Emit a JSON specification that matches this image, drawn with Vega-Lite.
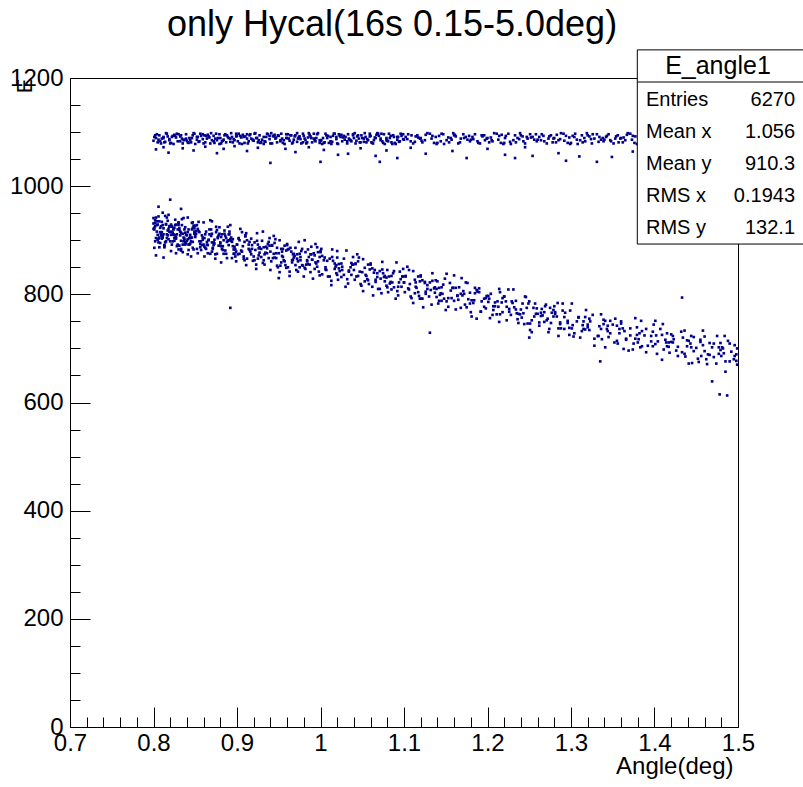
{
"$schema": "https://vega.github.io/schema/vega-lite/v6.json",
"width": 668, "height": 649,
"autosize": {"type": "none"},
"padding": {"left": 70, "top": 78, "right": 65, "bottom": 60},
"background": "white",
"title": {"text": "only Hycal(16s 0.15-5.0deg)", "fontSize": 36, "font": "Liberation Sans", "fontWeight": "normal", "color": "black", "anchor": "middle", "frame": "group", "baseline": "alphabetic", "offset": -23, "dx": -12},
"config": {
 "view": {"stroke": "black", "strokeWidth": 1},
 "font": "Liberation Sans",
 "axis": {"domainColor": "black", "tickColor": "black", "labelColor": "black", "titleColor": "black", "grid": false, "labelFont": "Liberation Sans", "titleFont": "Liberation Sans", "titleFontWeight": "normal", "domainWidth": 1, "tickWidth": 1}
},
"data": {"values": [
{"x":0.801,"y":920},{"x":0.807,"y":905},{"x":0.804,"y":935},{"x":0.809,"y":912},{"x":0.802,"y":926},{"x":0.806,"y":896},{"x":0.800,"y":931},{"x":0.808,"y":915},{"x":0.803,"y":942},{"x":0.805,"y":901},{"x":0.801,"y":923},{"x":0.807,"y":887},{"x":0.804,"y":928},{"x":0.809,"y":909},{"x":0.802,"y":937},{"x":0.806,"y":903},
{"x":0.810,"y":915},{"x":0.818,"y":947},{"x":0.813,"y":889},{"x":0.815,"y":930},{"x":0.811,"y":905},{"x":0.817,"y":918},{"x":0.814,"y":896},{"x":0.819,"y":926},{"x":0.812,"y":911},{"x":0.816,"y":942},{"x":0.810,"y":903},{"x":0.818,"y":921},{"x":0.813,"y":891},{"x":0.815,"y":929},{"x":0.811,"y":908},{"x":0.817,"y":936},
{"x":0.821,"y":910},{"x":0.827,"y":876},{"x":0.824,"y":921},{"x":0.829,"y":892},{"x":0.822,"y":916},{"x":0.826,"y":928},{"x":0.820,"y":898},{"x":0.828,"y":911},{"x":0.823,"y":914},{"x":0.825,"y":899},{"x":0.821,"y":929},{"x":0.827,"y":906},{"x":0.824,"y":920},{"x":0.829,"y":890},{"x":0.822,"y":925},{"x":0.826,"y":909},
{"x":0.830,"y":933},{"x":0.838,"y":892},{"x":0.833,"y":914},{"x":0.835,"y":878},{"x":0.831,"y":919},{"x":0.837,"y":900},{"x":0.834,"y":928},{"x":0.839,"y":894},{"x":0.832,"y":909},{"x":0.836,"y":941},{"x":0.830,"y":883},{"x":0.838,"y":924},{"x":0.833,"y":899},{"x":0.835,"y":912},{"x":0.831,"y":890},{"x":0.837,"y":920},
{"x":0.841,"y":902},{"x":0.847,"y":933},{"x":0.844,"y":894},{"x":0.849,"y":912},{"x":0.842,"y":882},{"x":0.846,"y":920},{"x":0.840,"y":899},{"x":0.848,"y":927},{"x":0.843,"y":904},{"x":0.845,"y":870},{"x":0.841,"y":915},{"x":0.847,"y":886},{"x":0.844,"y":910},{"x":0.849,"y":922},{"x":0.842,"y":892},{"x":0.846,"y":905},
{"x":0.850,"y":906},{"x":0.858,"y":891},{"x":0.853,"y":921},{"x":0.855,"y":898},{"x":0.851,"y":912},{"x":0.857,"y":882},{"x":0.854,"y":917},{"x":0.859,"y":901},{"x":0.852,"y":928},{"x":0.856,"y":887},{"x":0.850,"y":909},
{"x":0.861,"y":870},{"x":0.867,"y":911},{"x":0.864,"y":892},{"x":0.869,"y":920},{"x":0.862,"y":886},{"x":0.866,"y":901},{"x":0.860,"y":933},{"x":0.868,"y":875},{"x":0.863,"y":916},{"x":0.865,"y":891},{"x":0.861,"y":904},
{"x":0.870,"y":879},{"x":0.878,"y":909},{"x":0.873,"y":894},{"x":0.875,"y":925},{"x":0.871,"y":886},{"x":0.877,"y":904},{"x":0.874,"y":874},{"x":0.879,"y":912},{"x":0.872,"y":891},{"x":0.876,"y":919},{"x":0.870,"y":896},
{"x":0.881,"y":859},{"x":0.887,"y":904},{"x":0.884,"y":875},{"x":0.889,"y":899},{"x":0.882,"y":911},{"x":0.886,"y":881},{"x":0.880,"y":894},{"x":0.888,"y":897},{"x":0.883,"y":882},{"x":0.885,"y":912},{"x":0.881,"y":889},
{"x":0.890,"y":900},{"x":0.898,"y":870},{"x":0.893,"y":905},{"x":0.895,"y":889},{"x":0.891,"y":916},{"x":0.897,"y":875},{"x":0.894,"y":897},{"x":0.899,"y":861},{"x":0.892,"y":902},{"x":0.896,"y":883},{"x":0.890,"y":911},
{"x":0.901,"y":874},{"x":0.907,"y":889},{"x":0.904,"y":921},{"x":0.909,"y":863},{"x":0.902,"y":904},{"x":0.906,"y":879},{"x":0.900,"y":892},{"x":0.908,"y":870},{"x":0.903,"y":900},
{"x":0.915,"y":882},{"x":0.911,"y":913},{"x":0.917,"y":874},{"x":0.914,"y":892},{"x":0.919,"y":862},{"x":0.912,"y":900},{"x":0.916,"y":879},{"x":0.910,"y":907},{"x":0.918,"y":884},
{"x":0.923,"y":847},{"x":0.925,"y":892},{"x":0.921,"y":863},{"x":0.927,"y":887},{"x":0.924,"y":899},{"x":0.929,"y":869},{"x":0.922,"y":882},{"x":0.926,"y":885},{"x":0.920,"y":870},
{"x":0.938,"y":897},{"x":0.933,"y":874},{"x":0.935,"y":888},{"x":0.931,"y":858},{"x":0.937,"y":893},{"x":0.934,"y":877},{"x":0.939,"y":904},{"x":0.932,"y":863},{"x":0.936,"y":885},
{"x":0.940,"y":845},{"x":0.948,"y":886},{"x":0.943,"y":867},{"x":0.945,"y":895},{"x":0.941,"y":861},{"x":0.947,"y":876},{"x":0.944,"y":908},{"x":0.949,"y":850},{"x":0.942,"y":891},
{"x":0.956,"y":863},{"x":0.950,"y":876},{"x":0.958,"y":854},{"x":0.953,"y":884},{"x":0.955,"y":869},{"x":0.951,"y":900},{"x":0.957,"y":861},{"x":0.954,"y":879},{"x":0.959,"y":849},
{"x":0.962,"y":884},{"x":0.966,"y":863},{"x":0.960,"y":891},{"x":0.968,"y":868},{"x":0.963,"y":834},{"x":0.965,"y":879},{"x":0.961,"y":850},{"x":0.967,"y":874},{"x":0.964,"y":886},
{"x":0.979,"y":853},{"x":0.972,"y":866},{"x":0.976,"y":869},{"x":0.970,"y":854},{"x":0.978,"y":884},{"x":0.973,"y":861},{"x":0.975,"y":875},{"x":0.971,"y":845},{"x":0.977,"y":880},
{"x":0.984,"y":861},{"x":0.989,"y":888},{"x":0.982,"y":847},{"x":0.986,"y":869},{"x":0.980,"y":833},{"x":0.988,"y":874},{"x":0.983,"y":855},{"x":0.985,"y":883},{"x":0.981,"y":849},
{"x":0.997,"y":861},{"x":0.994,"y":893},{"x":0.999,"y":835},{"x":0.992,"y":876},{"x":0.996,"y":851},{"x":0.990,"y":864},{"x":0.998,"y":842},{"x":0.993,"y":872},{"x":0.995,"y":857},
{"x":1.001,"y":884},{"x":1.007,"y":845},{"x":1.004,"y":863},{"x":1.009,"y":833},{"x":1.002,"y":871},{"x":1.006,"y":850},{"x":1.000,"y":878},
{"x":1.018,"y":851},{"x":1.013,"y":817},{"x":1.015,"y":862},{"x":1.011,"y":833},{"x":1.017,"y":857},{"x":1.014,"y":869},{"x":1.019,"y":839},
{"x":1.022,"y":848},{"x":1.026,"y":851},{"x":1.020,"y":836},{"x":1.028,"y":866},{"x":1.023,"y":843},{"x":1.025,"y":857},{"x":1.021,"y":827},
{"x":1.037,"y":858},{"x":1.034,"y":842},{"x":1.039,"y":869},{"x":1.032,"y":828},{"x":1.036,"y":850},{"x":1.030,"y":814},{"x":1.038,"y":855},
{"x":1.043,"y":833},{"x":1.045,"y":861},{"x":1.041,"y":827},{"x":1.047,"y":842},{"x":1.044,"y":874},{"x":1.049,"y":816},{"x":1.042,"y":857},
{"x":1.056,"y":828},{"x":1.050,"y":841},{"x":1.058,"y":819},{"x":1.053,"y":849},{"x":1.055,"y":834},{"x":1.051,"y":865},{"x":1.057,"y":826},
{"x":1.064,"y":840},{"x":1.069,"y":810},{"x":1.062,"y":848},{"x":1.066,"y":827},{"x":1.060,"y":855},{"x":1.068,"y":832},{"x":1.063,"y":798},
{"x":1.075,"y":839},{"x":1.071,"y":810},{"x":1.077,"y":834},{"x":1.074,"y":846},{"x":1.079,"y":816},{"x":1.072,"y":829},{"x":1.076,"y":832},
{"x":1.080,"y":813},{"x":1.088,"y":843},{"x":1.083,"y":820},{"x":1.085,"y":834},{"x":1.081,"y":804},{"x":1.087,"y":839},{"x":1.084,"y":823},
{"x":1.099,"y":847},{"x":1.092,"y":806},{"x":1.096,"y":828},{"x":1.090,"y":792},{"x":1.098,"y":833},{"x":1.093,"y":814},{"x":1.095,"y":842},
{"x":1.101,"y":804},{"x":1.107,"y":819},{"x":1.104,"y":851},{"x":1.109,"y":793},{"x":1.102,"y":834},{"x":1.106,"y":809},{"x":1.100,"y":822},
{"x":1.118,"y":797},{"x":1.113,"y":827},{"x":1.115,"y":812},{"x":1.111,"y":843},{"x":1.117,"y":804},{"x":1.114,"y":822},{"x":1.119,"y":792},
{"x":1.122,"y":826},{"x":1.126,"y":805},{"x":1.120,"y":833},{"x":1.128,"y":810},{"x":1.123,"y":776},{"x":1.125,"y":821},{"x":1.121,"y":792},
{"x":1.137,"y":813},{"x":1.134,"y":825},{"x":1.139,"y":795},{"x":1.132,"y":808},{"x":1.136,"y":811},{"x":1.130,"y":796},{"x":1.138,"y":826},
{"x":1.143,"y":799},{"x":1.145,"y":813},{"x":1.141,"y":783},{"x":1.147,"y":818},{"x":1.144,"y":802},{"x":1.149,"y":829},{"x":1.142,"y":788},
{"x":1.156,"y":807},{"x":1.150,"y":771},{"x":1.158,"y":812},{"x":1.153,"y":793},{"x":1.155,"y":821},{"x":1.151,"y":787},
{"x":1.164,"y":798},{"x":1.169,"y":830},{"x":1.162,"y":772},{"x":1.166,"y":813},{"x":1.160,"y":788},{"x":1.168,"y":801},
{"x":1.175,"y":776},{"x":1.171,"y":806},{"x":1.177,"y":791},{"x":1.174,"y":822},{"x":1.179,"y":783},{"x":1.172,"y":801},
{"x":1.180,"y":767},{"x":1.188,"y":805},{"x":1.183,"y":784},{"x":1.185,"y":812},{"x":1.181,"y":789},{"x":1.187,"y":755},
{"x":1.199,"y":797},{"x":1.192,"y":768},{"x":1.196,"y":792},{"x":1.190,"y":804},{"x":1.198,"y":774},{"x":1.193,"y":787},
{"x":1.201,"y":786},{"x":1.207,"y":771},{"x":1.204,"y":801},{"x":1.209,"y":778},{"x":1.202,"y":792},{"x":1.206,"y":762},
{"x":1.218,"y":793},{"x":1.213,"y":777},{"x":1.215,"y":804},{"x":1.211,"y":763},{"x":1.217,"y":785},{"x":1.214,"y":749},
{"x":1.222,"y":787},{"x":1.226,"y":768},{"x":1.220,"y":796},{"x":1.228,"y":762},{"x":1.223,"y":777},{"x":1.225,"y":809},
{"x":1.237,"y":747},{"x":1.234,"y":788},{"x":1.239,"y":763},{"x":1.232,"y":776},{"x":1.236,"y":754},{"x":1.230,"y":784},
{"x":1.243,"y":765},{"x":1.245,"y":796},{"x":1.241,"y":757},{"x":1.247,"y":775},{"x":1.244,"y":745},{"x":1.249,"y":783},
{"x":1.256,"y":759},{"x":1.250,"y":787},{"x":1.258,"y":764},{"x":1.253,"y":730},{"x":1.255,"y":775},{"x":1.251,"y":746},
{"x":1.264,"y":766},{"x":1.269,"y":778},{"x":1.262,"y":748},{"x":1.266,"y":761},{"x":1.260,"y":764},{"x":1.268,"y":749},
{"x":1.275,"y":775},{"x":1.271,"y":752},{"x":1.277,"y":766},{"x":1.274,"y":736},{"x":1.279,"y":771},{"x":1.272,"y":755},
{"x":1.280,"y":778},{"x":1.288,"y":737},{"x":1.283,"y":759},{"x":1.285,"y":723},{"x":1.281,"y":764},{"x":1.287,"y":745},
{"x":1.299,"y":770},{"x":1.292,"y":736},{"x":1.296,"y":751},{"x":1.290,"y":783},{"x":1.298,"y":725},{"x":1.293,"y":766},
{"x":1.301,"y":737},{"x":1.307,"y":750},{"x":1.304,"y":728},{"x":1.309,"y":758},{"x":1.302,"y":743},
{"x":1.318,"y":771},{"x":1.313,"y":732},{"x":1.315,"y":750},{"x":1.311,"y":720},{"x":1.317,"y":758},
{"x":1.322,"y":734},{"x":1.326,"y":762},{"x":1.320,"y":739},{"x":1.328,"y":705},{"x":1.323,"y":750},
{"x":1.337,"y":717},{"x":1.334,"y":741},{"x":1.339,"y":753},{"x":1.332,"y":723},{"x":1.336,"y":736},
{"x":1.343,"y":736},{"x":1.345,"y":721},{"x":1.341,"y":751},{"x":1.347,"y":728},{"x":1.344,"y":742},
{"x":1.356,"y":709},{"x":1.350,"y":744},{"x":1.358,"y":728},{"x":1.353,"y":755},{"x":1.355,"y":714},
{"x":1.364,"y":732},{"x":1.369,"y":696},{"x":1.362,"y":737},{"x":1.366,"y":718},{"x":1.360,"y":746},
{"x":1.375,"y":709},{"x":1.371,"y":724},{"x":1.377,"y":756},{"x":1.374,"y":698},{"x":1.379,"y":739},
{"x":1.380,"y":711},{"x":1.388,"y":724},{"x":1.383,"y":702},{"x":1.385,"y":732},{"x":1.381,"y":717},
{"x":1.399,"y":744},{"x":1.392,"y":705},{"x":1.396,"y":723},{"x":1.390,"y":693},{"x":1.398,"y":731},
{"x":1.401,"y":708},{"x":1.407,"y":736},{"x":1.404,"y":713},{"x":1.409,"y":679},{"x":1.402,"y":724},
{"x":1.418,"y":692},{"x":1.413,"y":716},{"x":1.415,"y":728},{"x":1.411,"y":698},{"x":1.417,"y":711},
{"x":1.422,"y":711},{"x":1.426,"y":696},{"x":1.420,"y":726},{"x":1.428,"y":703},{"x":1.423,"y":717},
{"x":1.437,"y":685},{"x":1.434,"y":720},{"x":1.439,"y":704},{"x":1.432,"y":731},{"x":1.436,"y":690},
{"x":1.443,"y":709},{"x":1.445,"y":673},{"x":1.441,"y":714},{"x":1.447,"y":695},{"x":1.444,"y":723},
{"x":1.456,"y":686},{"x":1.450,"y":701},{"x":1.458,"y":733},{"x":1.453,"y":675},{"x":1.455,"y":716},
{"x":1.464,"y":689},{"x":1.469,"y":702},{"x":1.462,"y":680},{"x":1.466,"y":710},{"x":1.460,"y":695},
{"x":1.475,"y":723},{"x":1.471,"y":684},{"x":1.477,"y":702},{"x":1.474,"y":672},{"x":1.479,"y":710},
{"x":1.480,"y":686},{"x":1.488,"y":714},{"x":1.483,"y":691},{"x":1.485,"y":657},{"x":1.481,"y":702},
{"x":1.499,"y":670},{"x":1.492,"y":694},{"x":1.496,"y":706},{"x":1.490,"y":676},{"x":1.498,"y":689},
{"x":0.805,"y":910},{"x":0.802,"y":932},{"x":0.808,"y":895},{"x":0.800,"y":921},{"x":0.806,"y":944},{"x":0.803,"y":904},{"x":0.809,"y":926},{"x":0.801,"y":886},{"x":0.807,"y":935},{"x":0.804,"y":916},{"x":0.805,"y":929},{"x":0.802,"y":898},{"x":0.808,"y":923},{"x":0.800,"y":941},
{"x":0.816,"y":904},{"x":0.813,"y":887},{"x":0.819,"y":916},{"x":0.811,"y":928},{"x":0.817,"y":909},{"x":0.814,"y":945},{"x":0.815,"y":898},{"x":0.812,"y":922},{"x":0.818,"y":902},{"x":0.810,"y":934},{"x":0.816,"y":911},{"x":0.813,"y":890},{"x":0.819,"y":925},{"x":0.811,"y":951},
{"x":0.827,"y":903},{"x":0.824,"y":911},{"x":0.825,"y":904},{"x":0.822,"y":926},{"x":0.828,"y":889},{"x":0.820,"y":915},{"x":0.826,"y":938},{"x":0.823,"y":898},{"x":0.829,"y":920},{"x":0.821,"y":880},{"x":0.827,"y":929},{"x":0.824,"y":910},{"x":0.825,"y":923},{"x":0.822,"y":892},
{"x":0.838,"y":914},{"x":0.830,"y":932},{"x":0.836,"y":898},{"x":0.833,"y":881},{"x":0.839,"y":910},{"x":0.831,"y":922},{"x":0.837,"y":903},{"x":0.834,"y":939},{"x":0.835,"y":892},{"x":0.832,"y":916},{"x":0.838,"y":896},{"x":0.830,"y":928},{"x":0.836,"y":905},{"x":0.833,"y":884},
{"x":0.849,"y":916},{"x":0.841,"y":942},{"x":0.847,"y":897},{"x":0.844,"y":905},{"x":0.845,"y":898},{"x":0.842,"y":920},{"x":0.848,"y":883},{"x":0.840,"y":909},{"x":0.846,"y":932},{"x":0.843,"y":892},{"x":0.849,"y":914},{"x":0.841,"y":874},{"x":0.847,"y":923},{"x":0.844,"y":904},
{"x":0.855,"y":915},{"x":0.852,"y":884},{"x":0.858,"y":909},{"x":0.850,"y":927},{"x":0.856,"y":893},{"x":0.853,"y":876},{"x":0.859,"y":905},{"x":0.851,"y":917},{"x":0.857,"y":898},{"x":0.854,"y":934},
{"x":0.863,"y":884},{"x":0.869,"y":908},{"x":0.861,"y":888},{"x":0.867,"y":920},{"x":0.864,"y":897},{"x":0.865,"y":876},{"x":0.862,"y":911},{"x":0.868,"y":937},{"x":0.860,"y":892},{"x":0.866,"y":900},
{"x":0.878,"y":890},{"x":0.870,"y":912},{"x":0.876,"y":875},{"x":0.873,"y":901},{"x":0.879,"y":924},{"x":0.871,"y":884},{"x":0.877,"y":906},{"x":0.874,"y":866},{"x":0.875,"y":915},{"x":0.872,"y":896},
{"x":0.881,"y":906},{"x":0.887,"y":875},{"x":0.884,"y":900},{"x":0.885,"y":918},{"x":0.882,"y":884},{"x":0.888,"y":867},{"x":0.880,"y":896},{"x":0.886,"y":908},{"x":0.883,"y":889},{"x":0.889,"y":925},
{"x":0.896,"y":875},{"x":0.893,"y":899},{"x":0.899,"y":879},{"x":0.891,"y":911},{"x":0.897,"y":888},{"x":0.894,"y":867},{"x":0.895,"y":902},{"x":0.892,"y":928},{"x":0.898,"y":883},{"x":0.890,"y":891},
{"x":0.905,"y":881},{"x":0.902,"y":903},{"x":0.908,"y":866},{"x":0.900,"y":892},{"x":0.906,"y":915},{"x":0.903,"y":875},{"x":0.909,"y":897},
{"x":0.911,"y":854},{"x":0.917,"y":903},{"x":0.914,"y":884},{"x":0.915,"y":897},{"x":0.912,"y":866},{"x":0.918,"y":891},{"x":0.910,"y":909},
{"x":0.926,"y":872},{"x":0.923,"y":855},{"x":0.929,"y":884},{"x":0.921,"y":896},{"x":0.927,"y":877},{"x":0.924,"y":913},{"x":0.925,"y":866},
{"x":0.932,"y":887},{"x":0.938,"y":867},{"x":0.930,"y":899},{"x":0.936,"y":876},{"x":0.933,"y":855},{"x":0.939,"y":890},{"x":0.931,"y":916},
{"x":0.947,"y":867},{"x":0.944,"y":875},{"x":0.945,"y":868},{"x":0.942,"y":890},{"x":0.948,"y":853},{"x":0.940,"y":879},{"x":0.946,"y":902},
{"x":0.953,"y":859},{"x":0.959,"y":881},{"x":0.951,"y":841},{"x":0.957,"y":890},{"x":0.954,"y":871},{"x":0.955,"y":884},{"x":0.952,"y":853},
{"x":0.968,"y":875},{"x":0.960,"y":893},{"x":0.966,"y":859},{"x":0.963,"y":842},{"x":0.969,"y":871},{"x":0.961,"y":883},{"x":0.967,"y":864},
{"x":0.974,"y":897},{"x":0.975,"y":850},{"x":0.972,"y":874},{"x":0.978,"y":854},{"x":0.970,"y":886},{"x":0.976,"y":863},{"x":0.973,"y":842},
{"x":0.989,"y":874},{"x":0.981,"y":900},{"x":0.987,"y":855},{"x":0.984,"y":863},{"x":0.985,"y":856},{"x":0.982,"y":878},{"x":0.988,"y":841},
{"x":0.990,"y":864},{"x":0.996,"y":887},{"x":0.993,"y":847},{"x":0.999,"y":869},{"x":0.991,"y":829},{"x":0.997,"y":878},{"x":0.994,"y":859},
{"x":1.005,"y":868},{"x":1.002,"y":837},{"x":1.008,"y":862},{"x":1.000,"y":880},{"x":1.006,"y":846},
{"x":1.013,"y":825},{"x":1.019,"y":854},{"x":1.011,"y":866},{"x":1.017,"y":847},{"x":1.014,"y":883},
{"x":1.025,"y":832},{"x":1.022,"y":856},{"x":1.028,"y":836},{"x":1.020,"y":868},{"x":1.026,"y":845},
{"x":1.033,"y":820},{"x":1.039,"y":855},{"x":1.031,"y":881},{"x":1.037,"y":836},{"x":1.034,"y":844},
{"x":1.045,"y":834},{"x":1.042,"y":856},{"x":1.048,"y":819},{"x":1.040,"y":845},{"x":1.046,"y":868},
{"x":1.053,"y":824},{"x":1.059,"y":846},{"x":1.051,"y":806},{"x":1.057,"y":855},{"x":1.054,"y":836},
{"x":1.065,"y":845},{"x":1.062,"y":814},{"x":1.068,"y":839},{"x":1.060,"y":857},{"x":1.066,"y":823},
{"x":1.073,"y":802},{"x":1.079,"y":831},{"x":1.071,"y":843},{"x":1.077,"y":824},{"x":1.074,"y":860},
{"x":1.085,"y":809},{"x":1.082,"y":833},{"x":1.088,"y":813},{"x":1.080,"y":845},{"x":1.086,"y":822},
{"x":1.093,"y":798},{"x":1.099,"y":833},{"x":1.091,"y":859},{"x":1.097,"y":814},{"x":1.094,"y":822},
{"x":1.105,"y":811},{"x":1.102,"y":833},{"x":1.108,"y":796},{"x":1.100,"y":822},{"x":1.106,"y":845},
{"x":1.113,"y":802},{"x":1.119,"y":824},{"x":1.111,"y":784},{"x":1.117,"y":833},{"x":1.114,"y":814},
{"x":1.125,"y":823},{"x":1.122,"y":792},{"x":1.128,"y":817},{"x":1.120,"y":835},{"x":1.126,"y":801},
{"x":1.133,"y":781},{"x":1.139,"y":810},{"x":1.131,"y":822},{"x":1.137,"y":803},{"x":1.134,"y":839},
{"x":1.145,"y":788},{"x":1.142,"y":812},{"x":1.148,"y":792},{"x":1.140,"y":824},{"x":1.146,"y":801},
{"x":1.153,"y":777},{"x":1.159,"y":812},{"x":1.151,"y":838},{"x":1.157,"y":793},
{"x":1.164,"y":797},{"x":1.165,"y":790},{"x":1.162,"y":812},{"x":1.168,"y":775},
{"x":1.170,"y":798},{"x":1.176,"y":821},{"x":1.173,"y":781},{"x":1.179,"y":803},
{"x":1.181,"y":759},{"x":1.187,"y":808},{"x":1.184,"y":789},{"x":1.185,"y":802},
{"x":1.192,"y":768},{"x":1.198,"y":793},{"x":1.190,"y":811},{"x":1.196,"y":777},
{"x":1.203,"y":756},{"x":1.209,"y":785},{"x":1.201,"y":797},{"x":1.207,"y":778},
{"x":1.214,"y":810},{"x":1.215,"y":763},{"x":1.212,"y":787},{"x":1.218,"y":767},
{"x":1.220,"y":796},{"x":1.226,"y":773},{"x":1.223,"y":752},{"x":1.229,"y":787},
{"x":1.231,"y":809},{"x":1.237,"y":764},{"x":1.234,"y":772},{"x":1.235,"y":765},
{"x":1.242,"y":783},{"x":1.248,"y":746},{"x":1.240,"y":772},{"x":1.246,"y":795},
{"x":1.253,"y":752},{"x":1.259,"y":774},{"x":1.251,"y":734},{"x":1.257,"y":783},
{"x":1.264,"y":760},{"x":1.265,"y":773},{"x":1.262,"y":742},{"x":1.268,"y":767},
{"x":1.270,"y":781},{"x":1.276,"y":747},{"x":1.273,"y":730},{"x":1.279,"y":759},
{"x":1.281,"y":767},{"x":1.287,"y":748},{"x":1.284,"y":784},{"x":1.285,"y":737},
{"x":1.292,"y":758},{"x":1.298,"y":738},{"x":1.290,"y":770},{"x":1.296,"y":747},
{"x":1.303,"y":722},{"x":1.309,"y":757},{"x":1.301,"y":783},
{"x":1.317,"y":735},{"x":1.314,"y":743},{"x":1.315,"y":736},
{"x":1.322,"y":755},{"x":1.328,"y":718},{"x":1.320,"y":744},
{"x":1.336,"y":763},{"x":1.333,"y":723},{"x":1.339,"y":745},
{"x":1.341,"y":702},{"x":1.347,"y":751},{"x":1.344,"y":732},
{"x":1.355,"y":742},{"x":1.352,"y":711},{"x":1.358,"y":736},
{"x":1.360,"y":750},{"x":1.366,"y":716},{"x":1.363,"y":699},
{"x":1.379,"y":725},{"x":1.371,"y":737},{"x":1.377,"y":718},
{"x":1.384,"y":751},{"x":1.385,"y":704},{"x":1.382,"y":728},
{"x":1.398,"y":704},{"x":1.390,"y":736},{"x":1.396,"y":713},
{"x":1.403,"y":690},{"x":1.409,"y":725},{"x":1.401,"y":751},
{"x":1.417,"y":703},{"x":1.414,"y":711},{"x":1.415,"y":704},
{"x":1.422,"y":723},{"x":1.428,"y":686},{"x":1.420,"y":712},
{"x":1.436,"y":733},{"x":1.433,"y":693},{"x":1.439,"y":715},
{"x":1.441,"y":672},{"x":1.447,"y":721},{"x":1.444,"y":702},
{"x":1.455,"y":712},{"x":1.452,"y":681},{"x":1.458,"y":706},
{"x":1.460,"y":722},{"x":1.466,"y":688},{"x":1.463,"y":671},
{"x":1.479,"y":697},{"x":1.471,"y":709},{"x":1.477,"y":690},
{"x":1.484,"y":723},{"x":1.485,"y":676},{"x":1.482,"y":700},
{"x":1.498,"y":677},{"x":1.490,"y":709},{"x":1.496,"y":686},
{"x":0.892,"y":775},{"x":1.131,"y":729},{"x":1.433,"y":794},{"x":1.478,"y":615},{"x":1.487,"y":613},{"x":1.469,"y":639},{"x":1.335,"y":676},{"x":0.820,"y":975},{"x":0.806,"y":962},{"x":0.812,"y":868},{"x":0.803,"y":872},{"x":0.833,"y":958},{"x":0.870,"y":935},{"x":0.950,"y":830},{"x":1.020,"y":880},{"x":1.160,"y":835},{"x":1.250,"y":720},{"x":1.410,"y":745},{"x":1.499,"y":700},{"x":1.495,"y":680},
{"x":0.801,"y":1091},{"x":0.808,"y":1083},{"x":0.804,"y":1096},{"x":0.806,"y":1086},{"x":0.802,"y":1094},{"x":0.809,"y":1079},
{"x":0.810,"y":1088},{"x":0.817,"y":1092},{"x":0.813,"y":1081},{"x":0.815,"y":1098},{"x":0.819,"y":1085},{"x":0.812,"y":1089},
{"x":0.821,"y":1080},{"x":0.828,"y":1097},{"x":0.824,"y":1078},{"x":0.826,"y":1093},{"x":0.822,"y":1091},{"x":0.829,"y":1083},
{"x":0.830,"y":1096},{"x":0.837,"y":1086},{"x":0.833,"y":1094},{"x":0.835,"y":1079},{"x":0.839,"y":1088},{"x":0.832,"y":1092},
{"x":0.841,"y":1081},{"x":0.848,"y":1098},{"x":0.844,"y":1085},{"x":0.846,"y":1089},{"x":0.842,"y":1080},{"x":0.849,"y":1097},
{"x":0.850,"y":1078},{"x":0.857,"y":1093},{"x":0.853,"y":1091},{"x":0.855,"y":1083},{"x":0.859,"y":1096},{"x":0.852,"y":1086},
{"x":0.861,"y":1094},{"x":0.868,"y":1079},{"x":0.864,"y":1088},{"x":0.866,"y":1092},{"x":0.862,"y":1081},{"x":0.869,"y":1098},
{"x":0.870,"y":1085},{"x":0.877,"y":1089},{"x":0.873,"y":1080},{"x":0.875,"y":1097},{"x":0.879,"y":1078},{"x":0.872,"y":1093},
{"x":0.881,"y":1079},{"x":0.888,"y":1094},{"x":0.884,"y":1086},{"x":0.886,"y":1096},{"x":0.882,"y":1083},{"x":0.889,"y":1091},
{"x":0.890,"y":1089},{"x":0.897,"y":1085},{"x":0.893,"y":1098},{"x":0.895,"y":1081},{"x":0.899,"y":1092},{"x":0.892,"y":1088},
{"x":0.901,"y":1083},{"x":0.908,"y":1091},{"x":0.904,"y":1093},{"x":0.906,"y":1078},{"x":0.902,"y":1097},{"x":0.909,"y":1080},
{"x":0.910,"y":1092},{"x":0.917,"y":1088},{"x":0.913,"y":1079},{"x":0.915,"y":1094},{"x":0.919,"y":1086},{"x":0.912,"y":1096},
{"x":0.921,"y":1097},{"x":0.928,"y":1080},{"x":0.924,"y":1089},{"x":0.926,"y":1085},{"x":0.922,"y":1098},{"x":0.929,"y":1081},
{"x":0.930,"y":1086},{"x":0.937,"y":1096},{"x":0.933,"y":1083},{"x":0.935,"y":1091},{"x":0.939,"y":1093},{"x":0.932,"y":1078},
{"x":0.941,"y":1098},{"x":0.948,"y":1081},{"x":0.944,"y":1092},{"x":0.946,"y":1088},{"x":0.942,"y":1079},{"x":0.949,"y":1094},
{"x":0.950,"y":1093},{"x":0.957,"y":1078},{"x":0.953,"y":1097},{"x":0.955,"y":1080},{"x":0.959,"y":1089},{"x":0.952,"y":1085},
{"x":0.961,"y":1096},{"x":0.968,"y":1086},{"x":0.964,"y":1094},{"x":0.966,"y":1079},{"x":0.962,"y":1088},{"x":0.969,"y":1092},
{"x":0.970,"y":1094},{"x":0.977,"y":1079},{"x":0.973,"y":1088},{"x":0.975,"y":1092},{"x":0.979,"y":1081},{"x":0.972,"y":1098},
{"x":0.981,"y":1088},{"x":0.988,"y":1092},{"x":0.984,"y":1081},{"x":0.986,"y":1098},{"x":0.982,"y":1085},{"x":0.989,"y":1089},
{"x":0.990,"y":1081},{"x":0.997,"y":1098},{"x":0.993,"y":1085},{"x":0.995,"y":1089},{"x":0.999,"y":1080},{"x":0.992,"y":1097},
{"x":1.001,"y":1085},{"x":1.008,"y":1089},{"x":1.004,"y":1080},{"x":1.006,"y":1097},{"x":1.002,"y":1078},{"x":1.009,"y":1093},
{"x":1.010,"y":1080},{"x":1.017,"y":1097},{"x":1.013,"y":1078},{"x":1.015,"y":1093},{"x":1.019,"y":1091},{"x":1.012,"y":1083},
{"x":1.021,"y":1078},{"x":1.028,"y":1093},{"x":1.024,"y":1091},{"x":1.026,"y":1083},{"x":1.022,"y":1096},{"x":1.029,"y":1086},
{"x":1.030,"y":1091},{"x":1.037,"y":1083},{"x":1.033,"y":1096},{"x":1.035,"y":1086},{"x":1.039,"y":1094},{"x":1.032,"y":1079},
{"x":1.041,"y":1098},{"x":1.048,"y":1081},{"x":1.044,"y":1092},{"x":1.046,"y":1088},{"x":1.042,"y":1079},{"x":1.049,"y":1094},
{"x":1.050,"y":1089},{"x":1.057,"y":1085},{"x":1.053,"y":1098},{"x":1.055,"y":1081},{"x":1.059,"y":1092},{"x":1.052,"y":1088},
{"x":1.061,"y":1081},{"x":1.068,"y":1098},{"x":1.064,"y":1085},{"x":1.066,"y":1089},{"x":1.062,"y":1080},{"x":1.069,"y":1097},
{"x":1.070,"y":1093},{"x":1.077,"y":1078},{"x":1.073,"y":1097},{"x":1.075,"y":1080},{"x":1.079,"y":1089},{"x":1.072,"y":1085},
{"x":1.081,"y":1083},{"x":1.088,"y":1091},{"x":1.084,"y":1093},{"x":1.086,"y":1078},{"x":1.082,"y":1097},{"x":1.089,"y":1080},
{"x":1.090,"y":1078},{"x":1.097,"y":1093},{"x":1.093,"y":1091},{"x":1.095,"y":1083},{"x":1.099,"y":1096},{"x":1.092,"y":1086},
{"x":1.102,"y":1091},{"x":1.108,"y":1083},{"x":1.105,"y":1096},{"x":1.100,"y":1086},
{"x":1.116,"y":1094},{"x":1.111,"y":1079},{"x":1.119,"y":1088},{"x":1.114,"y":1092},
{"x":1.122,"y":1081},{"x":1.128,"y":1098},{"x":1.125,"y":1085},{"x":1.120,"y":1089},
{"x":1.136,"y":1080},{"x":1.131,"y":1097},{"x":1.139,"y":1078},{"x":1.134,"y":1093},
{"x":1.142,"y":1093},{"x":1.148,"y":1078},{"x":1.145,"y":1097},{"x":1.140,"y":1080},
{"x":1.156,"y":1089},{"x":1.151,"y":1085},{"x":1.159,"y":1098},{"x":1.154,"y":1081},
{"x":1.162,"y":1092},{"x":1.168,"y":1088},{"x":1.165,"y":1079},{"x":1.160,"y":1094},
{"x":1.176,"y":1086},{"x":1.171,"y":1096},{"x":1.179,"y":1083},{"x":1.174,"y":1091},
{"x":1.182,"y":1091},{"x":1.188,"y":1083},{"x":1.185,"y":1096},{"x":1.180,"y":1086},
{"x":1.196,"y":1094},{"x":1.191,"y":1079},{"x":1.199,"y":1088},{"x":1.194,"y":1092},
{"x":1.202,"y":1081},{"x":1.208,"y":1098},{"x":1.205,"y":1085},{"x":1.200,"y":1089},
{"x":1.216,"y":1080},{"x":1.211,"y":1097},{"x":1.219,"y":1078},{"x":1.214,"y":1093},
{"x":1.222,"y":1093},{"x":1.228,"y":1078},{"x":1.225,"y":1097},{"x":1.220,"y":1080},
{"x":1.236,"y":1089},{"x":1.231,"y":1085},{"x":1.239,"y":1098},{"x":1.234,"y":1081},
{"x":1.242,"y":1092},{"x":1.248,"y":1088},{"x":1.245,"y":1079},{"x":1.240,"y":1094},
{"x":1.256,"y":1086},{"x":1.251,"y":1096},{"x":1.259,"y":1083},{"x":1.254,"y":1091},
{"x":1.262,"y":1091},{"x":1.268,"y":1083},{"x":1.265,"y":1096},{"x":1.260,"y":1086},
{"x":1.276,"y":1094},{"x":1.271,"y":1079},{"x":1.279,"y":1088},{"x":1.274,"y":1092},
{"x":1.282,"y":1081},{"x":1.288,"y":1098},{"x":1.285,"y":1085},{"x":1.280,"y":1089},
{"x":1.296,"y":1080},{"x":1.291,"y":1097},{"x":1.299,"y":1078},{"x":1.294,"y":1093},
{"x":1.302,"y":1093},{"x":1.308,"y":1078},{"x":1.305,"y":1097},{"x":1.300,"y":1080},
{"x":1.316,"y":1089},{"x":1.311,"y":1085},{"x":1.319,"y":1098},{"x":1.314,"y":1081},
{"x":1.322,"y":1092},{"x":1.328,"y":1088},{"x":1.325,"y":1079},{"x":1.320,"y":1094},
{"x":1.336,"y":1086},{"x":1.331,"y":1096},{"x":1.339,"y":1083},{"x":1.334,"y":1091},
{"x":1.342,"y":1091},{"x":1.348,"y":1083},{"x":1.345,"y":1096},{"x":1.340,"y":1086},
{"x":1.356,"y":1094},{"x":1.351,"y":1079},{"x":1.359,"y":1088},{"x":1.354,"y":1092},
{"x":1.362,"y":1081},{"x":1.368,"y":1098},{"x":1.365,"y":1085},{"x":1.360,"y":1089},
{"x":1.376,"y":1080},{"x":1.371,"y":1097},{"x":1.379,"y":1078},{"x":1.374,"y":1093},
{"x":0.803,"y":1089},{"x":0.800,"y":1084},{"x":0.807,"y":1094},{"x":0.805,"y":1081},
{"x":0.816,"y":1097},{"x":0.819,"y":1087},{"x":0.812,"y":1091},{"x":0.814,"y":1082},
{"x":0.823,"y":1093},{"x":0.820,"y":1079},{"x":0.827,"y":1090},{"x":0.825,"y":1095},
{"x":0.836,"y":1085},{"x":0.839,"y":1096},{"x":0.832,"y":1083},{"x":0.834,"y":1088},
{"x":0.843,"y":1089},{"x":0.840,"y":1084},{"x":0.847,"y":1094},{"x":0.845,"y":1081},
{"x":0.856,"y":1097},{"x":0.859,"y":1087},{"x":0.852,"y":1091},{"x":0.854,"y":1082},
{"x":0.863,"y":1093},{"x":0.860,"y":1079},{"x":0.867,"y":1090},{"x":0.865,"y":1095},
{"x":0.876,"y":1085},{"x":0.879,"y":1096},{"x":0.872,"y":1083},{"x":0.874,"y":1088},
{"x":0.883,"y":1084},{"x":0.880,"y":1089},{"x":0.887,"y":1081},{"x":0.885,"y":1094},
{"x":0.896,"y":1087},{"x":0.899,"y":1097},{"x":0.892,"y":1082},{"x":0.894,"y":1091},
{"x":0.903,"y":1079},{"x":0.900,"y":1093},{"x":0.907,"y":1095},{"x":0.905,"y":1090},
{"x":0.916,"y":1096},{"x":0.919,"y":1085},{"x":0.912,"y":1088},{"x":0.914,"y":1083},
{"x":0.923,"y":1089},{"x":0.920,"y":1084},{"x":0.927,"y":1094},{"x":0.925,"y":1081},
{"x":0.936,"y":1097},{"x":0.939,"y":1087},{"x":0.932,"y":1091},{"x":0.934,"y":1082},
{"x":0.943,"y":1093},{"x":0.940,"y":1079},{"x":0.947,"y":1090},{"x":0.945,"y":1095},
{"x":0.956,"y":1085},{"x":0.959,"y":1096},{"x":0.952,"y":1083},{"x":0.954,"y":1088},
{"x":0.963,"y":1084},{"x":0.960,"y":1089},{"x":0.967,"y":1081},{"x":0.965,"y":1094},
{"x":0.976,"y":1087},{"x":0.979,"y":1097},{"x":0.972,"y":1082},{"x":0.974,"y":1091},
{"x":0.983,"y":1079},{"x":0.980,"y":1093},{"x":0.987,"y":1095},{"x":0.985,"y":1090},
{"x":0.996,"y":1096},{"x":0.999,"y":1085},{"x":0.992,"y":1088},{"x":0.994,"y":1083},
{"x":1.003,"y":1089},{"x":1.000,"y":1084},{"x":1.007,"y":1094},{"x":1.005,"y":1081},
{"x":1.016,"y":1097},{"x":1.019,"y":1087},{"x":1.012,"y":1091},{"x":1.014,"y":1082},
{"x":1.023,"y":1093},{"x":1.020,"y":1079},{"x":1.027,"y":1090},{"x":1.025,"y":1095},
{"x":1.036,"y":1085},{"x":1.039,"y":1096},{"x":1.032,"y":1083},{"x":1.034,"y":1088},
{"x":1.043,"y":1084},{"x":1.040,"y":1089},{"x":1.047,"y":1081},{"x":1.045,"y":1094},
{"x":1.056,"y":1087},{"x":1.059,"y":1097},{"x":1.052,"y":1082},{"x":1.054,"y":1091},
{"x":1.063,"y":1079},{"x":1.060,"y":1093},{"x":1.067,"y":1095},{"x":1.065,"y":1090},
{"x":1.076,"y":1096},{"x":1.079,"y":1085},{"x":1.072,"y":1088},{"x":1.074,"y":1083},
{"x":1.083,"y":1089},{"x":1.080,"y":1084},{"x":1.087,"y":1094},{"x":1.085,"y":1081},
{"x":1.096,"y":1097},{"x":1.099,"y":1087},{"x":1.092,"y":1091},{"x":1.094,"y":1082},
{"x":1.104,"y":1087},{"x":1.109,"y":1094},{"x":1.113,"y":1082},{"x":1.117,"y":1090},{"x":1.126,"y":1095},{"x":1.121,"y":1084},{"x":1.133,"y":1088},{"x":1.138,"y":1091},{"x":1.144,"y":1083},{"x":1.147,"y":1096},{"x":1.153,"y":1090},{"x":1.157,"y":1086},{"x":1.161,"y":1095},{"x":1.167,"y":1081},{"x":1.172,"y":1089},{"x":1.178,"y":1093},{"x":1.183,"y":1087},{"x":1.189,"y":1080},{"x":1.193,"y":1094},{"x":1.197,"y":1085},{"x":1.204,"y":1090},{"x":1.206,"y":1083},{"x":1.213,"y":1086},{"x":1.217,"y":1095},{"x":1.221,"y":1089},{"x":1.227,"y":1082},{"x":1.233,"y":1094},{"x":1.238,"y":1087},{"x":1.243,"y":1083},{"x":1.247,"y":1091},{"x":1.252,"y":1090},{"x":1.258,"y":1096},{"x":1.264,"y":1085},{"x":1.267,"y":1093},{"x":1.273,"y":1088},{"x":1.278,"y":1081},{"x":1.283,"y":1095},{"x":1.287,"y":1087},{"x":1.292,"y":1084},{"x":1.298,"y":1090},{"x":1.304,"y":1091},{"x":1.307,"y":1086},{"x":1.313,"y":1094},{"x":1.317,"y":1083},{"x":1.324,"y":1087},{"x":1.326,"y":1096},{"x":1.333,"y":1082},{"x":1.338,"y":1089},{"x":1.343,"y":1093},{"x":1.347,"y":1085},{"x":1.353,"y":1088},{"x":1.357,"y":1081},{"x":1.363,"y":1090},{"x":1.367,"y":1095},{"x":1.373,"y":1086},{"x":1.377,"y":1092},
{"x":0.803,"y":1068},{"x":0.812,"y":1072},{"x":0.818,"y":1062},{"x":0.835,"y":1070},{"x":0.848,"y":1066},{"x":0.862,"y":1073},{"x":0.876,"y":1061},{"x":0.884,"y":1069},{"x":0.897,"y":1074},{"x":0.912,"y":1065},{"x":0.925,"y":1071},{"x":0.940,"y":1043},{"x":0.958,"y":1069},{"x":0.970,"y":1063},{"x":0.986,"y":1072},{"x":1.000,"y":1045},{"x":1.004,"y":1067},{"x":1.021,"y":1058},{"x":1.033,"y":1060},{"x":1.048,"y":1070},{"x":1.066,"y":1056},{"x":1.071,"y":1045},{"x":1.079,"y":1066},{"x":1.092,"y":1052},{"x":1.108,"y":1071},{"x":1.126,"y":1060},{"x":1.158,"y":1065},{"x":1.175,"y":1052},{"x":1.200,"y":1069},{"x":1.221,"y":1058},{"x":1.233,"y":1052},{"x":1.245,"y":1072},{"x":1.254,"y":1056},{"x":1.285,"y":1061},{"x":1.294,"y":1047},{"x":1.310,"y":1055},{"x":1.331,"y":1045},{"x":1.349,"y":1054},{"x":1.374,"y":1064}
]},
"layer": [
 {
  "mark": {"type": "square", "size": 7, "color": "#00008b", "opacity": 1, "filled": true},
  "encoding": {
   "x": {"field": "x", "type": "quantitative", "scale": {"domain": [0.7, 1.5], "nice": false, "zero": false},
     "axis": {"orient": "bottom", "values": [0.7,0.8,0.9,1.0,1.1,1.2,1.3,1.4,1.5], "format": "~g", "tickSize": -20, "labelFontSize": 24, "labelPadding": 24, "title": "Angle(deg)", "titleFontSize": 24, "titleX": 663, "titleY": 46, "titleAlign": "right", "titleBaseline": "alphabetic", "labelFlush": false}},
   "y": {"field": "y", "type": "quantitative", "scale": {"domain": [0, 1200], "nice": false, "zero": true},
     "axis": {"orient": "left", "values": [0,200,400,600,800,1000,1200], "format": "d", "tickSize": -20, "labelFontSize": 24, "labelPadding": 27, "title": "E", "titleFontSize": 22, "titleAngle": -90, "titleX": -46, "titleY": 0, "titleAlign": "right", "titleBaseline": "middle", "labelFlush": false}}
  }
 },
 {
  "data": {"values": [{"x": 0.7, "y": 0}]},
  "mark": {"type": "point", "opacity": 0},
  "encoding": {
   "x": {"field": "x", "type": "quantitative", "axis": {"orient": "bottom", "values": [0.72,0.74,0.76,0.78,0.82,0.84,0.86,0.88,0.92,0.94,0.96,0.98,1.02,1.04,1.06,1.08,1.12,1.14,1.16,1.18,1.22,1.24,1.26,1.28,1.32,1.34,1.36,1.38,1.42,1.44,1.46,1.48], "tickSize": -10, "labels": false, "domain": false, "title": null}},
   "y": {"field": "y", "type": "quantitative", "axis": {"orient": "left", "values": [50,100,150,250,300,350,450,500,550,650,700,750,850,900,950,1050,1100,1150], "tickSize": -10, "labels": false, "domain": false, "title": null}}
  }
 },
 {
  "data": {"values": [{}]},
  "mark": {"type": "rect", "fill": "white", "stroke": "black", "strokeWidth": 1},
  "encoding": {
   "x": {"datum": 1.3794, "type": "quantitative", "axis": null},
   "x2": {"datum": 1.62},
   "y": {"datum": 893, "type": "quantitative", "axis": null},
   "y2": {"datum": 1252}
  }
 },
 {
  "data": {"values": [{}]},
  "mark": {"type": "rule", "color": "black", "strokeWidth": 1},
  "encoding": {
   "x": {"datum": 1.3794, "type": "quantitative", "axis": null},
   "x2": {"datum": 1.62},
   "y": {"datum": 1192.6, "type": "quantitative", "axis": null}
  }
 },
 {
  "data": {"values": [{"t": "E_angle1", "y": 1221.5}]},
  "mark": {"type": "text", "align": "center", "baseline": "middle", "fontSize": 25, "color": "black", "font": "Liberation Sans"},
  "encoding": {
   "x": {"datum": 1.476, "type": "quantitative", "axis": null},
   "y": {"field": "y", "type": "quantitative", "axis": null},
   "text": {"field": "t"}
  }
 },
 {
  "data": {"values": [{"s": "Entries", "v": "6270", "y": 1159.7}, {"s": "Mean x", "v": "1.056", "y": 1099.4}, {"s": "Mean y", "v": "910.3", "y": 1041.6}, {"s": "RMS x", "v": "0.1943", "y": 981.1}, {"s": "RMS y", "v": "132.1", "y": 922.6}]},
  "layer": [
   {"mark": {"type": "text", "align": "left", "baseline": "middle", "fontSize": 20, "color": "black", "font": "Liberation Sans"},
    "encoding": {"x": {"datum": 1.3898, "type": "quantitative", "axis": null}, "y": {"field": "y", "type": "quantitative", "axis": null}, "text": {"field": "s"}}},
   {"mark": {"type": "text", "align": "right", "baseline": "middle", "fontSize": 20, "color": "black", "font": "Liberation Sans"},
    "encoding": {"x": {"datum": 1.5683, "type": "quantitative", "axis": null}, "y": {"field": "y", "type": "quantitative", "axis": null}, "text": {"field": "v"}}}
  ]
 }
],
"resolve": {"axis": {"x": "independent", "y": "independent"}}
}
